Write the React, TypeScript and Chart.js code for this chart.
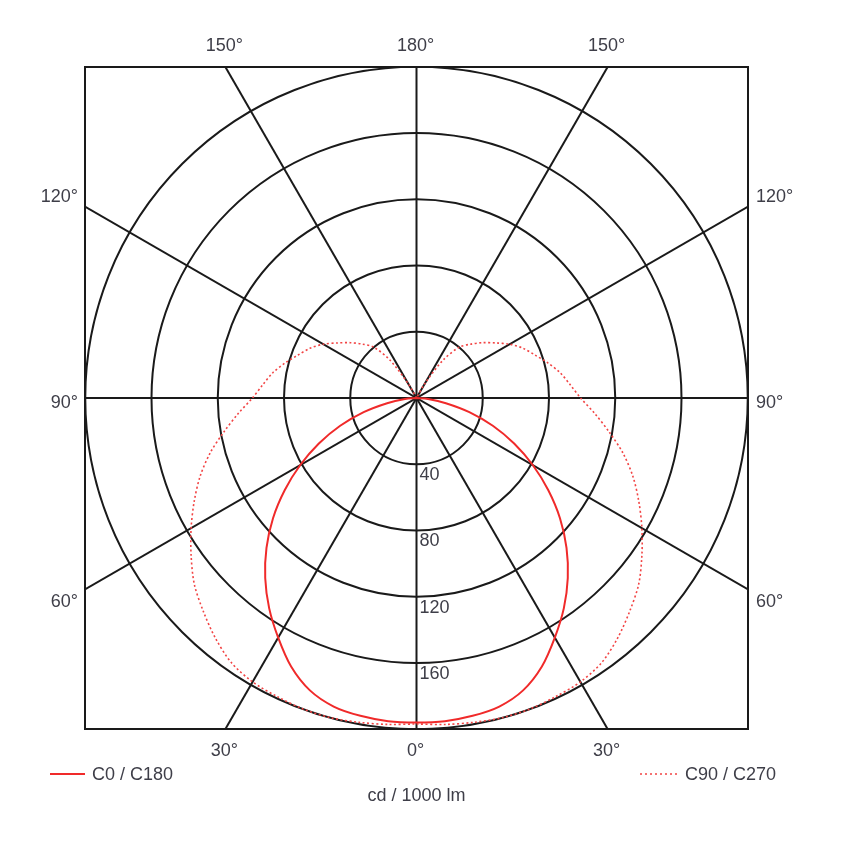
import React, { useEffect, useRef } from 'react';
import { Chart, registerables } from 'chart.js';

Chart.register(...registerables);

// Luminous intensity (cd / 1000 lm) against gamma angle (0° = straight down)
const C0_ANGLES = [0, 5, 10, 15, 20, 25, 30, 35, 40, 45, 50, 55, 60, 65, 70, 75, 80, 85, 90];
const C0_CANDELA = [196, 196, 195, 193, 188, 179, 167, 155, 142, 128, 113, 97, 81, 65, 49, 33, 18, 7, 0];

const C90_ANGLES = [0, 5, 10, 15, 20, 25, 30, 35, 40, 45, 50, 55, 60, 65, 70, 75, 80, 85, 90, 95, 100, 105, 110, 115, 120, 125, 130, 135, 140, 145, 150, 155];
const C90_CANDELA = [197, 198, 199, 200, 200, 199, 198, 195, 189, 182, 175, 166, 157, 148, 139, 129, 118, 108, 99, 93, 88, 82, 76, 71, 65, 58, 52, 46, 40, 28, 10, 0];

const RING_VALUES = [40, 80, 120, 160, 200];
const RING_LABELS = ['40', '80', '120', '160'];
const SPOKE_ANGLES = [0, 30, 60, 90, 120, 150];
const TOP_ANGLES = [-150, 180, 150];
const TOP_LABELS = ['150°', '180°', '150°'];
const BOTTOM_ANGLES = [-30, 0, 30];
const BOTTOM_LABELS = ['30°', '0°', '30°'];
const SIDE_ANGLES = [120, 90, 60];
const SIDE_LABELS = ['120°', '90°', '60°'];
const SERIES_NAMES = ['C0 / C180', 'C90 / C270'];
const UNIT_LABEL = 'cd / 1000 lm';
const SCALE_MAX = 200;

const FONT = '18px "Liberation Sans", Arial, sans-serif';
const TEXT_COLOR = '#3e3e48';
const GRID_COLOR = '#1a1a1a';
const RED = '#f02a2a';
const RED_DOT = '#f24444';

function mirrorPolar(angles: number[], values: number[]) {
  const pts: { x: number; y: number }[] = [];
  for (let i = angles.length - 1; i >= 0; i--) {
    const t = (angles[i] * Math.PI) / 180;
    pts.push({ x: -values[i] * Math.sin(t), y: -values[i] * Math.cos(t) });
  }
  for (let i = 1; i < angles.length; i++) {
    const t = (angles[i] * Math.PI) / 180;
    pts.push({ x: values[i] * Math.sin(t), y: -values[i] * Math.cos(t) });
  }
  return pts;
}

const polarGrid = {
  id: 'polarGrid',
  beforeDatasetsDraw(chart: any) {
    const { ctx, chartArea } = chart;
    const { left, top, right, bottom } = chartArea;
    const xs = chart.scales.x;
    const ys = chart.scales.y;
    const cx = xs.getPixelForValue(0);
    const cy = ys.getPixelForValue(0);
    ctx.save();
    ctx.beginPath();
    ctx.rect(left, top, right - left, bottom - top);
    ctx.clip();
    ctx.strokeStyle = GRID_COLOR;
    ctx.lineWidth = 2;
    RING_VALUES.forEach((v) => {
      const r = (xs.getPixelForValue(v) - cx + (cy - ys.getPixelForValue(v))) / 2;
      ctx.beginPath();
      ctx.arc(cx, cy, r, 0, Math.PI * 2);
      ctx.stroke();
    });
    SPOKE_ANGLES.forEach((a) => {
      const t = (a * Math.PI) / 180;
      const dx = Math.sin(t) * 2000;
      const dy = Math.cos(t) * 2000;
      ctx.beginPath();
      ctx.moveTo(cx - dx, cy - dy);
      ctx.lineTo(cx + dx, cy + dy);
      ctx.stroke();
    });
    ctx.restore();

    ctx.save();
    ctx.strokeStyle = GRID_COLOR;
    ctx.lineWidth = 2;
    ctx.strokeRect(left, top, right - left, bottom - top);
    ctx.restore();
  },
  afterDatasetsDraw(chart: any) {
    const { ctx, chartArea } = chart;
    const { left, top, right, bottom } = chartArea;
    const xs = chart.scales.x;
    const ys = chart.scales.y;
    const cx = xs.getPixelForValue(0);
    const cy = ys.getPixelForValue(0);
    ctx.save();
    ctx.font = FONT;
    ctx.fillStyle = TEXT_COLOR;
    ctx.textBaseline = 'middle';

    // ring values
    ctx.textAlign = 'left';
    RING_LABELS.forEach((lab, i) => {
      const y = ys.getPixelForValue(-RING_VALUES[i]);
      ctx.fillText(lab, cx + 3, y + 11);
    });

    // angle labels
    ctx.textAlign = 'center';
    TOP_ANGLES.forEach((a, i) => {
      const t = (a * Math.PI) / 180;
      const k = (top - cy) / Math.cos(t);
      const x = cx + k * Math.sin(t);
      ctx.fillText(TOP_LABELS[i], x - 1, top - 21);
    });
    BOTTOM_ANGLES.forEach((a, i) => {
      const t = (a * Math.PI) / 180;
      const k = (bottom - cy) / Math.cos(t);
      const x = cx + k * Math.sin(t);
      ctx.fillText(BOTTOM_LABELS[i], x - 1, bottom + 22);
    });

    const sideOffsets = [-10, 5, 13];
    SIDE_ANGLES.forEach((a, i) => {
      const t = (a * Math.PI) / 180;
      const k = (right - cx) / Math.sin(t);
      const y = cy + k * Math.cos(t) + sideOffsets[i];
      ctx.textAlign = 'right';
      ctx.fillText(SIDE_LABELS[i], left - 7, y);
      ctx.textAlign = 'left';
      ctx.fillText(SIDE_LABELS[i], right + 8, y);
    });

    // legend
    const ly = bottom + 45;
    ctx.strokeStyle = RED;
    ctx.lineWidth = 2;
    ctx.beginPath();
    ctx.moveTo(50, ly);
    ctx.lineTo(85, ly);
    ctx.stroke();
    ctx.textAlign = 'left';
    ctx.fillText(SERIES_NAMES[0], 92, ly + 1);

    ctx.strokeStyle = RED_DOT;
    ctx.lineWidth = 1.6;
    ctx.setLineDash([2, 3]);
    ctx.beginPath();
    ctx.moveTo(640, ly);
    ctx.lineTo(678, ly);
    ctx.stroke();
    ctx.setLineDash([]);
    ctx.fillText(SERIES_NAMES[1], 685, ly + 1);

    ctx.textAlign = 'center';
    ctx.fillText(UNIT_LABEL, cx, bottom + 67);
    ctx.restore();
  },
};

export default function App() {
  const ref = useRef<HTMLCanvasElement | null>(null);
  useEffect(() => {
    if (!ref.current) return;
    const chart = new Chart(ref.current, {
      type: 'scatter',
      data: {
        datasets: [
          {
            label: SERIES_NAMES[0],
            data: mirrorPolar(C0_ANGLES, C0_CANDELA),
            showLine: true,
            borderColor: RED,
            borderWidth: 2,
            pointRadius: 0,
            tension: 0.3,
            fill: false,
          },
          {
            label: SERIES_NAMES[1],
            data: mirrorPolar(C90_ANGLES, C90_CANDELA),
            showLine: true,
            borderColor: RED_DOT,
            borderWidth: 1.6,
            borderDash: [2, 2.5],
            pointRadius: 0,
            tension: 0.3,
            fill: false,
          },
        ],
      },
      options: {
        responsive: false,
        animation: false,
        layout: { padding: { left: 85, top: 67, right: 102, bottom: 113 } },
        scales: {
          x: { type: 'linear', min: -SCALE_MAX, max: SCALE_MAX, display: false },
          y: { type: 'linear', min: -SCALE_MAX, max: SCALE_MAX, display: false },
        },
        plugins: {
          legend: { display: false },
          tooltip: { enabled: false },
        },
      },
      plugins: [polarGrid],
    });
    return () => chart.destroy();
  }, []);
  return (
    <div style={{ position: 'absolute', left: 0, top: 0, width: 850, height: 842, background: '#fff' }}>
      <canvas ref={ref} width={850} height={842} />
    </div>
  );
}
